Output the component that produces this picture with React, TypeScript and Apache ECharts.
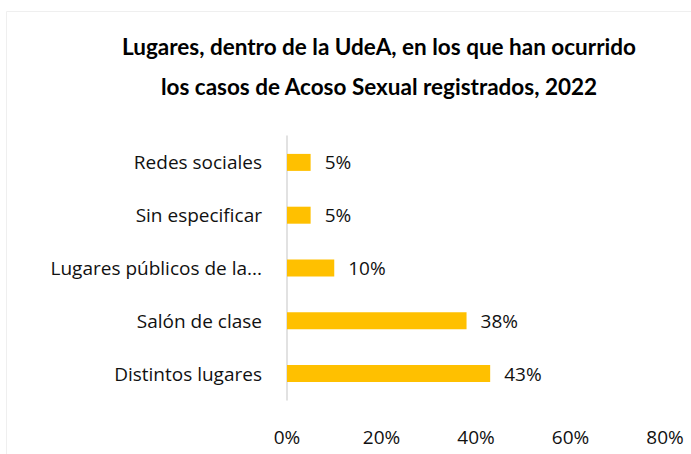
import React, { useEffect, useRef } from "react";
import * as echarts from "echarts";

const categories = [
  "Distintos lugares",
  "Salón de clase",
  "Lugares públicos de la...",
  "Sin especificar",
  "Redes sociales",
];
const values = [0.43, 0.38, 0.1, 0.05, 0.05];
const xTicks = [0, 0.2, 0.4, 0.6, 0.8];
const titleLines = [
  "Lugares, dentro de la UdeA, en los que han ocurrido",
  "los casos de Acoso Sexual registrados, 2022",
];

const TEXT = "#111111";
const FONT = "'Open Sans', 'Noto Sans', sans-serif";
const TITLE_FONT = "Lato, 'Noto Sans', sans-serif";

export default function App() {
  const ref = useRef<HTMLDivElement>(null);
  useEffect(() => {
    if (!ref.current) return;
    const chart = echarts.init(ref.current, undefined, { renderer: "svg" });
    chart.setOption({
      animation: false,
      backgroundColor: "#ffffff",
      graphic: [
        {
          type: "polyline",
          shape: { points: [[6.5, 460], [6.5, 11.5], [700, 11.5]] },
          style: { stroke: "#efefef", fill: "none", lineWidth: 1 },
          silent: true,
        },
      ],
      title: [
        {
          text: titleLines.join("\n"),
          left: 374,
          top: 21,
          textAlign: "center",
          textStyle: {
            fontFamily: TITLE_FONT,
            fontWeight: "bold",
            fontSize: 22.5,
            lineHeight: 40,
            color: "#000000",
          },
        },
      ],
      grid: { left: 287, top: 136, width: 378, height: 264, containLabel: false },
      xAxis: {
        type: "value",
        min: 0,
        max: 0.8,
        interval: 0.2,
        splitLine: { show: false },
        axisLine: { show: false },
        axisTick: { show: false },
        axisLabel: {
          margin: 27,
          fontFamily: FONT,
          fontSize: 19,
          color: TEXT,
          formatter: (v: number) => {
            const t = xTicks.find((x) => Math.abs(x - v) < 1e-6);
            return t === undefined ? "" : Math.round(t * 100) + "%";
          },
        },
      },
      yAxis: {
        type: "category",
        data: categories,
        axisLine: { show: true, lineStyle: { color: "#d9d9d9", width: 1.5 } },
        axisTick: { show: false },
        splitLine: { show: false },
        axisLabel: {
          margin: 25,
          fontFamily: FONT,
          fontSize: 19,
          color: TEXT,
        },
      },
      series: [
        {
          type: "bar",
          data: values,
          barWidth: 17,
          itemStyle: { color: "#FFC000" },
          label: {
            show: true,
            position: "right",
            distance: 14,
            fontFamily: FONT,
            fontSize: 19,
            color: TEXT,
            formatter: (p: any) => Math.round(p.value * 100) + "%",
          },
        },
      ],
    });
    return () => chart.dispose();
  }, []);
  return (
    <div
      ref={ref}
      style={{ position: "absolute", left: 0, top: 0, width: 691, height: 454 }}
    />
  );
}
